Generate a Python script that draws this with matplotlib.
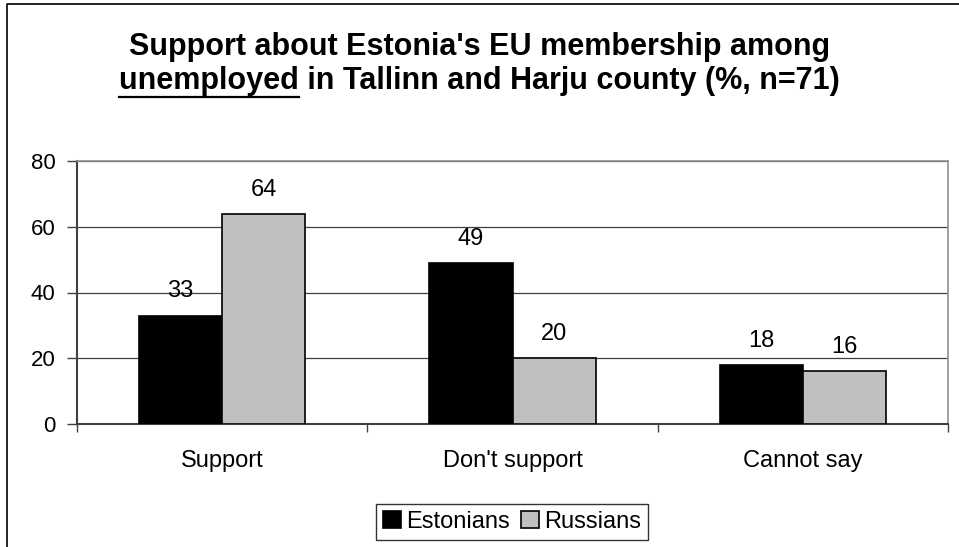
import numpy as np
import matplotlib
matplotlib.use('Agg')
import matplotlib.pyplot as plt
from matplotlib.lines import Line2D

categories = ['Support', "Don't support", 'Cannot say']
estonians = [33, 49, 18]
russians = [64, 20, 16]
series_names = ['Estonians', 'Russians']
y_ticks = [0, 20, 40, 60, 80]

plt.rcParams['font.family'] = ['Liberation Sans', 'DejaVu Sans']

W, H = 959, 547
fig = plt.figure(figsize=(W / 100, H / 100), dpi=100)
ax = fig.add_axes([77 / W, 1 - 424 / H, (948 - 77) / W, (424 - 161) / H])

x = np.arange(len(categories))
w = 0.286
b1 = ax.bar(x - w / 2, estonians, w, color='black', edgecolor='black', linewidth=1.2,
            label=series_names[0], zorder=3)
b2 = ax.bar(x + w / 2, russians, w, color='#c0c0c0', edgecolor='black', linewidth=1.2,
            label=series_names[1], zorder=3)

for bars, vals in [(b1, estonians), (b2, russians)]:
    for rect, v in zip(bars, vals):
        ax.annotate(str(v), (rect.get_x() + rect.get_width() / 2, v),
                    xytext=(0, 13), textcoords='offset points',
                    ha='center', va='baseline', fontsize=17)

ax.set_xlim(-0.5, len(categories) - 0.5)
ax.set_ylim(0, 80)
ax.set_yticks(y_ticks)
ax.tick_params(axis='y', labelsize=16, length=7, width=1, pad=8.5, color='#404040')

# category labels at centres, tick marks at boundaries
ax.set_xticks(np.arange(len(categories) + 1) - 0.5)
ax.set_xticklabels([])
ax.set_xticks(x, minor=True)
ax.set_xticklabels(categories, minor=True)
ax.tick_params(axis='x', which='major', length=6, width=1, color='#404040')
ax.tick_params(axis='x', which='minor', length=0, labelsize=17, pad=19)

ax.yaxis.grid(True, color='#404040', linewidth=0.9, zorder=0)
ax.set_axisbelow(True)
for s in ['top', 'right']:
    ax.spines[s].set_color('#909090')
    ax.spines[s].set_linewidth(1.2)
for s in ['left', 'bottom']:
    ax.spines[s].set_color('#404040')
    ax.spines[s].set_linewidth(1.5)

leg = fig.legend(loc='center', bbox_to_anchor=(512 / W, 1 - 522 / H), ncol=2,
                 fontsize=17, frameon=True, fancybox=False, handlelength=0.75,
                 handleheight=0.75, handletextpad=0.2, columnspacing=0.5,
                 borderpad=0.3, borderaxespad=0)
leg.get_frame().set_edgecolor('black')
leg.get_frame().set_linewidth(1.0)

# title (two lines, second line has "unemployed" underlined)
tsize = 22
t1 = fig.text(0.5, 1 - 47 / H, "Support about Estonia's EU membership among",
              ha='center', va='center', fontsize=tsize, fontweight='bold')
line2 = 'unemployed in Tallinn and Harju county (%, n=71)'
t2 = fig.text(0.5, 1 - 81 / H, line2, ha='center', va='center',
              fontsize=tsize, fontweight='bold')
fig.canvas.draw()
r = fig.canvas.get_renderer()
bb = t2.get_window_extent(r)
tmp = fig.text(0, 0, 'unemployed', fontsize=tsize, fontweight='bold')
ub = tmp.get_window_extent(r)
tmp.remove()
yl = H - 97
fig.add_artist(Line2D([bb.x0, bb.x0 + ub.width], [yl, yl], transform=None,
                      color='black', linewidth=1.6))

# outer chart border
fig.add_artist(Line2D([7 / W, 7 / W, 1.0], [0, 1 - 4 / H, 1 - 4 / H],
                      transform=fig.transFigure, color='black', linewidth=1.2))

fig.savefig('out.png', dpi=100)
